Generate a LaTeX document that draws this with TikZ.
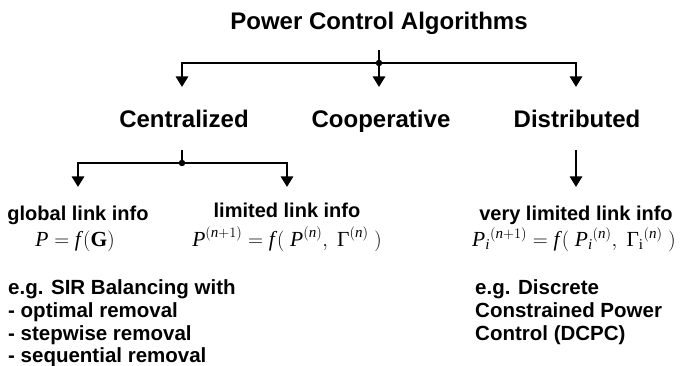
\documentclass[tikz,border=0pt]{standalone}
\usepackage{amsmath}
\usepackage{fontspec}
\setmainfont{Liberation Sans}
\newfontfamily\tms{Liberation Serif}
\usetikzlibrary{arrows.meta}
\newcommand\tP{\text{\tms\itshape P}}
\newcommand\tf{\text{\tms\itshape f}\mkern2mu}
\newcommand\tn{\text{\tms\itshape n}}
\newcommand\ti{\text{\tms\itshape i}}
\newcommand\tG{\text{\tms\bfseries G}}
\newcommand\tGam{\text{\tms Γ}}
\newcommand\tx[1]{\text{\tms #1}}
\begin{document}
\begin{tikzpicture}[x=1pt,y=-1pt,
  big/.style={font=\fontsize{24}{28}\selectfont\bfseries, inner sep=0pt, anchor=base},
  lbl/.style={font=\fontsize{20}{24}\selectfont\bfseries, inner sep=0pt, anchor=base},
  frm/.style={font=\fontsize{21.5}{25}\selectfont, inner sep=0pt, anchor=base},
  blk/.style={font=\fontsize{20.5}{23}\selectfont\bfseries, inner sep=0pt, anchor=base west},
  conn/.style={line width=2.7pt},
  arr/.style={conn, -{Triangle[width=12pt,length=10.5pt]}},
  dot/.style={circle, fill, inner sep=0pt, minimum size=6.5pt}]
\useasboundingbox (0,0) rectangle (685,366);

% texts
\node[big] (title) at (379,30) {Power Control Algorithms};
\node[big] (cen) at (184,128) {Centralized};
\node[big] (coop) at (381,128) {Cooperative};
\node[big] (dist) at (577,128) {Distributed};

\node[lbl] (glob) at (78,220) {global link info};
\node[lbl] (lim) at (287,218) {limited link info};
\node[lbl] (vlim) at (576,220) {very limited link info};

\node[frm] (f1) at (75,246) {$\tP = \tf(\tG)$};
\node[frm] (f2) at (287,246) {$\tP^{(\tn+1)} = \tf(\;\tP^{(\tn)},\;\tGam^{(\tn)}\;)$};
\node[frm] (f3) at (574,246) {$\tP_{\ti}{}^{(\tn+1)} = \tf(\;\tP_{\ti}{}^{(\tn)},\;\tGam_{\tx{i}}{}^{(\tn)}\;)$};

\node[blk] (e1) at (8,294) {e.g. SIR Balancing with};
\node[blk] (e2) at (8,317) {- optimal removal};
\node[blk] (e3) at (8,340) {- stepwise removal};
\node[blk] (e4) at (8,362) {- sequential removal};

\node[blk] (d1) at (475,294) {e.g. Discrete};
\node[blk] (d2) at (475,317) {Constrained Power};
\node[blk] (d3) at (475,340) {Control (DCPC)};

% connectors
\coordinate (s1) at (379,50);
\coordinate (j1) at (379,63);
\coordinate (a1) at (182,87);
\coordinate (a2) at (379,87);
\coordinate (a3) at (576,87);
\draw[conn] (s1) -- (j1);
\draw[arr] (j1) -| (a1);
\draw[arr] (j1) -- (a2);
\draw[arr] (j1) -| (a3);
\node[dot] (k1) at (j1) {};

\coordinate (s2) at (182,150);
\coordinate (j2) at (182,163);
\coordinate (b1) at (78,187);
\coordinate (b2) at (287,187);
\draw[conn] (s2) -- (j2);
\draw[arr] (j2) -| (b1);
\draw[arr] (j2) -| (b2);
\node[dot] (k2) at (j2) {};

\coordinate (s3) at (576,150);
\coordinate (b3) at (576,187);
\draw[arr] (s3) -- (b3);
\end{tikzpicture}
\end{document}
